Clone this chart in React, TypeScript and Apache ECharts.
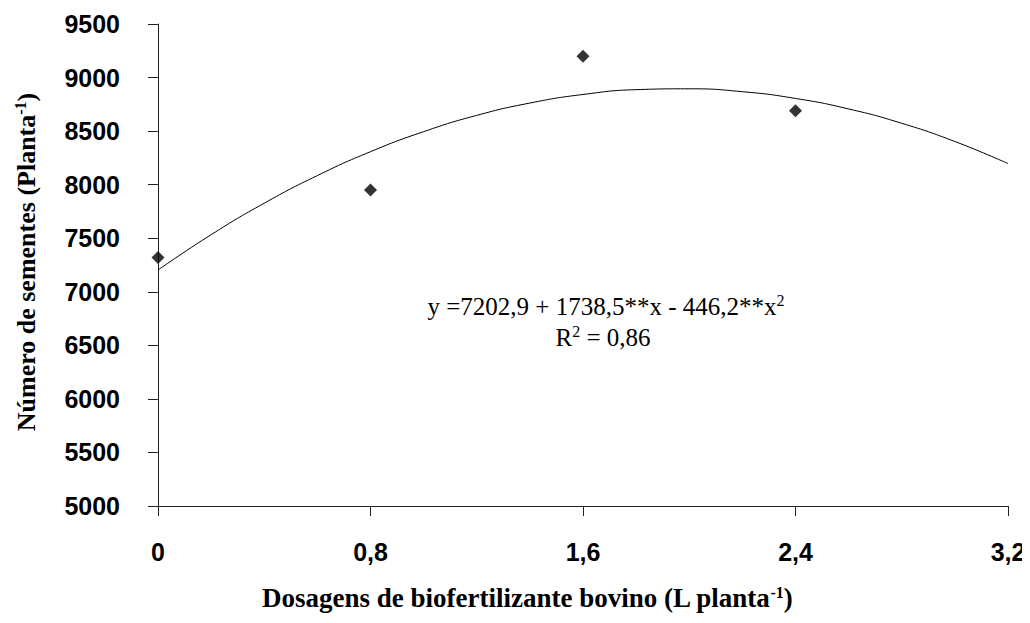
import React, { useEffect, useRef } from "react";
import * as echarts from "echarts";

const doses = [0, 0.8, 1.6, 2.4];
const seeds = [7320, 7950, 9200, 8690];

const curveX = [0, 0.2, 0.4, 0.6, 0.8, 1.0, 1.2, 1.4, 1.6, 1.8, 2.0, 2.2, 2.4, 2.6, 2.8, 3.0, 3.2];
const curveY = [7203, 7533, 7827, 8085, 8308, 8495, 8647, 8762, 8842, 8887, 8895, 8868, 8805, 8707, 8573, 8403, 8197];

const equationText = "y =7202,9 + 1738,5**x - 446,2**x";
const r2Text = "R";
const r2Value = " = 0,86";

export default function App() {
  const ref = useRef<HTMLDivElement>(null);
  useEffect(() => {
    if (!ref.current) return;
    const chart = echarts.init(ref.current, undefined, { renderer: "svg" });
    const serif = "'Liberation Serif', 'Times New Roman', serif";
    const sans = "'Liberation Sans', Arial, sans-serif";
    const fmt = (v: number) => String(Number(v.toFixed(1))).replace(".", ",");
    chart.setOption({
      animation: false,
      backgroundColor: "#fff",
      grid: { left: 158, right: 22, top: 24, bottom: 117, containLabel: false },
      xAxis: {
        type: "value",
        min: 0,
        max: 3.2,
        interval: 0.8,
        axisLine: { show: true, onZero: false, lineStyle: { color: "#222", width: 1 } },
        axisTick: { show: true, inside: false, length: 10, lineStyle: { color: "#222" } },
        splitLine: { show: false },
        axisLabel: {
          margin: 33,
          formatter: fmt,
          color: "#000",
          fontFamily: sans,
          fontWeight: "bold",
          fontSize: 25,
        },
      },
      yAxis: {
        type: "value",
        min: 5000,
        max: 9500,
        interval: 500,
        axisLine: { show: true, onZero: false, lineStyle: { color: "#222", width: 1 } },
        axisTick: { show: true, inside: false, length: 10, lineStyle: { color: "#222" } },
        splitLine: { show: false },
        axisLabel: {
          margin: 38,
          formatter: (v: number) => String(v),
          color: "#000",
          fontFamily: sans,
          fontWeight: "bold",
          fontSize: 25,
        },
      },
      series: [
        {
          type: "line",
          data: curveX.map((x, i) => [x, curveY[i]]),
          smooth: true,
          showSymbol: false,
          symbol: "none",
          lineStyle: { color: "#000", width: 1 },
          z: 2,
        },
        {
          type: "scatter",
          data: doses.map((x, i) => [x, seeds[i]]),
          symbol: "diamond",
          symbolSize: 13,
          itemStyle: { color: "#000" },
          z: 3,
        },
      ],
      graphic: [
        {
          type: "text",
          x: 606,
          y: 306,
          style: {
            text: `{n|${equationText}}{s|2}`,
            textAlign: "center",
            textVerticalAlign: "middle",
            rich: {
              n: { fontFamily: serif, fontSize: 25, fill: "#000" },
              s: { fontFamily: serif, fontSize: 16, fill: "#000", padding: [0, 0, 12, 0] },
            },
          },
        },
        {
          type: "text",
          x: 603,
          y: 337,
          style: {
            text: `{n|${r2Text}}{s|2}{n|${r2Value}}`,
            textAlign: "center",
            textVerticalAlign: "middle",
            rich: {
              n: { fontFamily: serif, fontSize: 25, fill: "#000" },
              s: { fontFamily: serif, fontSize: 16, fill: "#000", padding: [0, 0, 12, 0] },
            },
          },
        },
        {
          type: "text",
          x: 527,
          y: 598,
          style: {
            text: "{n|Dosagens de biofertilizante bovino (L planta}{s|-1}{n|)}",
            textAlign: "center",
            textVerticalAlign: "middle",
            rich: {
              n: { fontFamily: serif, fontSize: 27, fontWeight: "bold", fill: "#000" },
              s: { fontFamily: serif, fontSize: 16, fontWeight: "bold", fill: "#000", padding: [0, 0, 12, 0] },
            },
          },
        },
        {
          type: "text",
          x: 26,
          y: 262,
          rotation: Math.PI / 2,
          style: {
            text: "{n|Número de sementes (Planta}{s|-1}{n|)}",
            textAlign: "center",
            textVerticalAlign: "middle",
            rich: {
              n: { fontFamily: serif, fontSize: 26, fontWeight: "bold", fill: "#000" },
              s: { fontFamily: serif, fontSize: 16, fontWeight: "bold", fill: "#000", padding: [0, 0, 12, 0] },
            },
          },
        },
      ],
    });
    return () => chart.dispose();
  }, []);
  return <div ref={ref} style={{ width: 1030, height: 623, margin: -8 }} />;
}
